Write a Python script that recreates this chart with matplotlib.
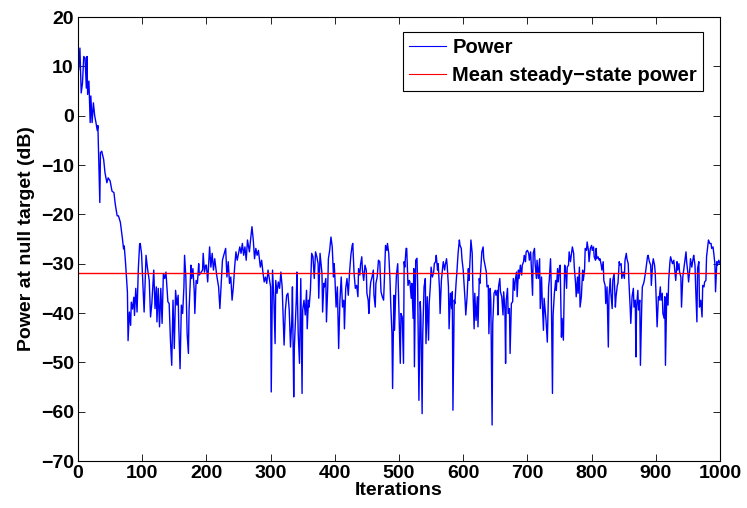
import matplotlib
matplotlib.use("Agg")
import matplotlib.pyplot as plt

plt.rcParams['font.family'] = ['Liberation Sans', 'DejaVu Sans']
plt.rcParams['font.weight'] = 'bold'

iterations = [
    1, 3, 5, 7, 9, 11, 13, 14, 15, 17, 19, 20, 22, 24, 26, 28, 30, 31, 32, 34, 35, 37, 40, 42, 45, 47,
    50, 53, 56, 58, 61, 63, 66, 69, 71, 72, 74, 77, 78, 80, 82, 83, 85, 87, 88, 90, 92, 94, 96,
    97, 99, 103, 106, 108, 111, 113, 115, 118, 120, 122, 123, 125, 127, 129, 131, 133, 135, 137, 138,
    140, 142, 144, 146, 148, 150, 152, 154, 156, 157, 159, 161, 163, 165, 166, 168, 170, 172, 173,
    176, 177, 179, 181, 182, 184, 186, 188, 189, 192, 194, 195, 197, 199,
    200, 202, 205, 207, 209, 211, 213, 216, 219, 221, 223, 225, 227, 230, 232, 234, 236, 238, 240,
    242, 244, 246, 248, 250, 252, 254, 256, 258, 260, 262, 264, 267, 269, 271, 273, 275, 277, 279,
    281, 284, 286, 288, 290, 292, 294, 296, 298, 300,
    301, 303, 305, 307, 308, 310, 312, 314, 316, 318, 319, 321, 323, 325, 327, 329, 331, 333, 334,
    336, 337, 340, 341, 343, 345, 347, 349, 350, 352, 354, 356, 357, 359, 360, 362, 364, 366, 368,
    370, 372, 374, 375, 377, 380, 381, 383, 384, 386, 387, 389, 390, 392, 394, 396, 398, 399,
    400, 402, 404, 406, 408, 410, 412, 414, 415, 417, 419, 421, 423, 425, 427, 428, 430, 432, 434,
    436, 437, 439, 440, 442, 443, 445, 447, 449, 450, 452, 453, 455, 456, 458, 460, 461, 463, 464,
    466, 468, 470, 472, 474, 476, 477, 479, 481, 482, 484, 486, 487, 489, 490, 492, 493, 495, 496,
    498, 500, 502, 503, 505, 507, 508,
    509, 511, 512, 514, 516, 517, 519, 520, 522, 523, 524, 526, 528, 529, 531, 533, 534, 536, 537,
    539, 541, 542, 544, 546, 547, 549, 550, 552, 554, 555, 557, 558, 560, 561, 563, 564, 566, 568,
    569, 571, 572, 574, 575, 577, 578, 580, 582, 583, 584, 586, 587, 589, 590, 592, 594, 595, 597,
    598, 600, 601, 603,
    604, 606, 608, 609, 611, 612, 614, 615, 617, 618, 620, 622, 623, 625, 626, 628, 629, 631, 632,
    634, 636, 637, 639, 640, 642, 643, 645, 646, 648, 650, 651, 653, 654, 655, 657, 658, 660, 662,
    663, 665, 666, 667, 669, 670, 672, 673, 675, 677, 678, 680, 681, 683, 684, 686, 687, 689, 691,
    692, 694, 695, 697, 698, 700, 702, 703, 705,
    706, 708, 709, 711, 712, 714, 715, 717, 719, 720, 722, 723, 725, 726, 728, 729, 731, 733, 734,
    736, 737, 739, 740, 742, 744, 745, 747, 748, 750, 751, 753, 754, 756, 758, 759, 761, 762, 764,
    765, 767, 768, 770, 772, 773, 775, 776, 778, 779, 781, 782, 784, 786, 787, 789, 790, 792, 793,
    795, 796, 798, 800, 801, 803, 804, 806,
    807, 808, 810, 812, 813, 815, 816, 818, 819, 821, 822, 824, 826, 827, 829, 830, 832, 833, 835,
    837, 838, 840, 841, 843, 844, 846, 847, 849, 851, 852, 854, 855, 857, 858, 860, 861, 863, 865,
    866, 868, 869, 870, 872, 873, 875, 876, 878, 879, 881, 882, 884, 885, 887, 888, 890, 892, 893,
    895, 896, 898, 899,
    900, 902, 904, 905, 907, 908, 910, 911, 913, 914, 915, 917, 919, 920, 922, 923, 925, 926, 928,
    929, 931, 933, 934, 936, 937, 939, 940, 942, 944, 945, 947, 948, 950, 951, 953, 954, 956, 958,
    959, 961, 962, 964, 965, 967, 968, 970, 972, 973, 975, 976, 978, 979, 981, 982, 984, 986, 987,
    989, 990, 992, 993, 995, 996, 998, 1000,
]

power_db = [
    9.3, 13.7, 4.6, 6.6, 12.0, 11.7, 5.6, 12.0, 4.3, 7.0, -1.4, 4.0, -1.4, 2.6, 0.0, -1.4, -3.0, -2.0, -7.5, -17.6, -7.5, -7.2, -8.9, -11.5, -13.6, -12.6,
    -13.2, -15.3, -15.6, -17.9, -20.3, -20.3, -21.6, -24.7, -27.0, -26.4, -29.7, -35.8, -45.6, -39.8, -42.5, -37.8, -39.2, -36.8, -40.5, -35.0, -39.8, -31.0, -26.0,
    -25.9, -28.0, -39.8, -28.3, -30.7, -33.4, -40.8, -38.1, -31.3, -39.1, -34.7, -41.8, -35.0, -42.8, -35.0, -42.1, -32.0, -33.0, -31.7, -33.7,
    -37.7, -38.1, -45.5, -50.6, -37.4, -47.2, -35.4, -38.4, -36.4, -42.8, -51.3, -38.4, -40.1, -34.7, -28.3, -32.7, -44.2, -48.2, -39.4,
    -30.3, -33.0, -31.0, -35.4, -40.1, -33.4, -34.0, -30.0, -32.3, -31.7, -31.3, -27.9, -31.7, -30.3,
    -30.3, -33.7, -26.6, -30.7, -27.9, -31.3, -29.0, -32.3, -34.7, -39.1, -34.0, -29.3, -28.3, -26.9, -32.7, -29.6, -34.0, -32.7, -37.4,
    -34.7, -30.7, -27.6, -29.3, -27.9, -26.6, -27.9, -25.9, -28.3, -26.6, -29.3, -25.2, -27.6, -24.9, -22.5, -25.2, -29.0, -26.9, -28.3,
    -27.3, -30.7, -29.3, -31.7, -33.7, -32.7, -34.0, -31.3, -33.0, -34.7,
    -56.0, -31.3, -36.7, -46.2, -33.4, -36.0, -33.7, -35.0, -31.7, -34.7, -38.8, -46.5, -39.4, -36.4, -36.0, -39.4, -46.9, -41.5, -34.7,
    -57.0, -46.9, -37.4, -31.7, -44.2, -50.2, -33.0, -56.3, -39.4, -37.4, -40.4, -35.4, -43.2, -37.4, -38.8, -35.4, -27.9, -28.6, -33.0,
    -27.6, -28.6, -30.0, -37.0, -27.9, -32.0, -39.8, -34.0, -34.7, -33.0, -41.8, -34.7, -29.0, -27.3, -24.6, -26.6, -32.7, -30.0,
    -32.3, -38.8, -34.7, -47.2, -37.4, -32.7, -38.8, -37.4, -43.2, -35.0, -33.0, -36.4, -31.7, -28.3, -26.3, -25.9, -32.0, -35.0, -34.4,
    -36.7, -31.0, -32.3, -30.3, -28.6, -31.3, -33.4, -30.3, -31.3, -36.0, -37.4, -40.1, -35.0, -33.7, -32.7, -31.3, -36.4, -38.8, -34.0,
    -32.7, -29.3, -29.6, -35.7, -36.7, -37.4, -34.0, -26.3, -27.3, -25.9, -27.9, -33.4, -37.8, -44.2, -55.3, -36.4, -43.5, -35.4, -32.3,
    -30.0, -40.1, -50.2, -40.1, -40.8, -50.2, -29.6,
    -30.7, -26.9, -26.9, -34.4, -33.4, -33.7, -37.0, -34.0, -41.1, -31.0, -50.9, -29.3, -28.9, -34.0, -57.7, -37.7, -40.4, -60.4, -44.2,
    -34.7, -33.0, -46.2, -36.7, -45.5, -38.1, -34.0, -30.7, -32.7, -31.7, -30.0, -29.6, -28.3, -31.3, -30.0, -35.0, -40.1, -33.4, -30.7,
    -29.6, -31.3, -30.3, -29.0, -30.3, -34.7, -43.2, -36.0, -39.1, -35.7, -59.7, -37.4, -38.1, -33.7, -32.0, -27.9, -25.2, -26.3, -26.9,
    -29.0, -31.3, -33.4, -37.7,
    -40.4, -36.7, -31.0, -33.4, -28.3, -25.2, -27.9, -34.7, -43.2, -36.0, -41.5, -36.7, -42.8, -33.0, -34.0, -29.6, -27.6, -26.6, -29.0,
    -30.3, -31.7, -34.7, -34.4, -44.2, -35.0, -37.4, -62.7, -42.1, -36.0, -35.4, -36.4, -35.4, -40.4, -34.7, -33.0, -35.7, -36.7, -40.4,
    -35.7, -39.4, -50.2, -37.4, -35.0, -40.1, -39.1, -48.2, -38.1, -37.7, -33.0, -35.4, -33.4, -31.7, -36.7, -31.3, -33.0, -30.3, -32.3,
    -30.3, -29.6, -28.3, -29.6, -27.6, -27.3, -27.9, -29.3, -27.6,
    -30.3, -36.4, -27.9, -26.9, -30.0, -33.0, -29.3, -33.0, -29.0, -39.1, -32.7, -37.4, -43.5, -37.0, -40.1, -41.5, -45.9, -34.7, -33.4,
    -29.0, -34.0, -56.3, -40.4, -36.0, -33.4, -35.4, -31.0, -33.7, -30.7, -30.3, -44.9, -41.1, -45.5, -30.3, -30.7, -35.0, -30.7, -30.3,
    -27.6, -29.6, -28.6, -26.6, -27.9, -30.7, -34.0, -36.7, -32.7, -36.0, -30.7, -38.8, -36.7, -31.3, -33.4, -31.3, -26.9, -27.3, -25.6,
    -27.3, -29.6, -26.9, -26.3, -27.3, -26.6, -28.6, -29.3,
    -26.9, -29.0, -28.6, -29.3, -29.0, -30.3, -31.3, -29.6, -33.4, -34.4, -38.1, -34.7, -46.9, -36.7, -33.0, -36.0, -39.1, -33.4, -32.0,
    -38.8, -36.7, -34.4, -34.0, -29.6, -30.3, -30.0, -33.0, -31.7, -33.0, -29.3, -27.9, -29.0, -30.0, -33.4, -38.8, -42.1, -36.7, -35.0,
    -38.8, -37.4, -48.9, -38.8, -35.4, -39.4, -37.4, -50.6, -38.8, -34.7, -34.0, -33.4, -31.7, -30.7, -28.6, -28.3, -29.6, -30.3, -34.4,
    -30.0, -29.0, -30.3, -31.7,
    -35.0, -42.8, -36.7, -37.4, -34.7, -37.4, -36.0, -40.1, -41.1, -36.7, -50.6, -36.0, -38.4, -33.4, -29.6, -28.6, -29.6, -30.0, -29.3,
    -30.7, -33.4, -29.6, -31.3, -30.0, -31.7, -32.7, -38.8, -32.7, -30.7, -29.6, -27.6, -29.6, -32.0, -33.7, -31.0, -29.0, -30.7, -29.0,
    -28.3, -30.3, -34.7, -41.8, -31.0, -29.6, -38.8, -37.4, -40.8, -34.4, -34.7, -33.7, -33.4, -28.6, -26.3, -25.2, -25.9, -25.9, -26.9,
    -26.6, -27.6, -30.0, -35.7, -29.6, -30.3, -29.3, -30.0,
]

mean_steady_state_db = -31.8

x_ticks = [0, 100, 200, 300, 400, 500, 600, 700, 800, 900, 1000]
y_ticks = [-70, -60, -50, -40, -30, -20, -10, 0, 10, 20]

fig = plt.figure(figsize=(7.47, 5.08), dpi=100)
ax = fig.add_axes([0.1044, 0.0925, 0.8595, 0.874])

ax.plot(iterations, power_db, color=(0, 0, 1), lw=1.0, label='Power')
ax.axhline(mean_steady_state_db, color=(1, 0, 0), lw=1.0, label='Mean steady\u2212state power')

ax.set_xlim(0, 1000)
ax.set_ylim(-70, 20)
ax.set_xticks(x_ticks)
ax.set_yticks(y_ticks)
ax.tick_params(direction='in', top=True, right=True, length=5, width=0.6,
               labelsize=14, pad=3)
for lab in ax.get_xticklabels() + ax.get_yticklabels():
    lab.set_fontweight('bold')
for s in ax.spines.values():
    s.set_linewidth(0.8)

ax.set_xlabel('Iterations', fontsize=14, fontweight='bold', labelpad=0)
ax.set_ylabel('Power at null target (dB)', fontsize=14, fontweight='bold', labelpad=4)

leg = ax.legend(loc='upper right', bbox_to_anchor=(0.9735, 0.966), borderaxespad=0,
                fancybox=False, framealpha=1, edgecolor='black',
                prop={'size': 14.5, 'weight': 'bold'}, handlelength=1.85,
                handletextpad=0.3, labelspacing=0.42, borderpad=0.3)
leg.get_frame().set_linewidth(0.8)
for line in leg.get_lines():
    line.set_linewidth(0.8)
for t in leg.get_texts():
    t.set_fontweight('bold')

fig.savefig('out.png', dpi=100)
